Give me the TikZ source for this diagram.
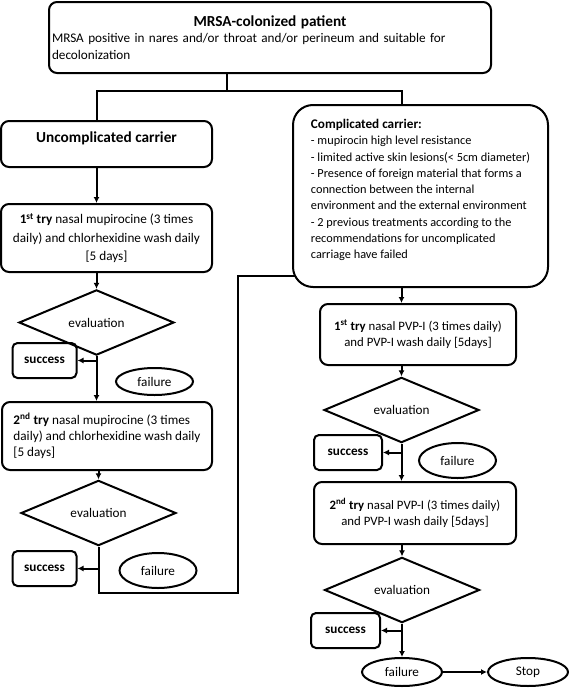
\documentclass[tikz,border=0pt]{standalone}
\usepackage{fontspec}
\setmainfont{Carlito}
\usetikzlibrary{arrows.meta,shapes.geometric}

\begin{document}
\begin{tikzpicture}[
                x=1pt,y=-1pt,
                line width=2pt,
                every node/.style={draw,font=\fontsize{13.2}{16.3}\selectfont,inner sep=3pt},
                box/.style={rounded corners=8pt,align=center},
                heading/.style={font=\fontsize{15.3}{17}\selectfont\bfseries},
                decision/.style={diamond,minimum width=155pt,minimum height=45pt,inner sep=0pt},
                outcome/.style={rounded corners=5pt,font=\fontsize{13.2}{16.3}\selectfont\bfseries,minimum width=64pt,minimum height=35pt},
                result/.style={ellipse,minimum width=77pt,minimum height=32pt},
                link/.style={-{Latex[length=6pt,width=6pt]}}
            ]
                \useasboundingbox (0,0) rectangle (569,688);
                \node[box,align=left,text width=436pt,minimum height=71pt] (patient) at (270,37.5)
                    {{\centering\fontsize{15.3}{17}\selectfont\bfseries MRSA-colonized patient\par}MRSA positive in nares and/or throat and/or perineum and suitable for\\decolonization};
                \node[box,heading,minimum width=211pt,minimum height=46pt,text depth=14pt] (uncompl) at (106.5,144) {Uncomplicated carrier};
                \node[box,minimum width=211pt,minimum height=68pt] (try1) at (106.5,238)
                    {\textbf{1\textsuperscript{st} try} nasal mupirocine (3 times\\[2pt]daily) and chlorhexidine wash daily\\[2pt][5 days]};
                \node[decision] (eval1) at (96.5,322.5) {evaluation};
                \node[outcome] (succ1) at (44.5,360.5) {success};
                \node[result,minimum height=27pt] (fail1) at (154.5,381.5) {failure};
                \node[box,align=left,minimum width=210pt,minimum height=68pt] (try2) at (107,436)
                    {\textbf{2\textsuperscript{nd} try} nasal mupirocine (3 times\\daily) and chlorhexidine wash daily\\{[5 days]}};
                \node[decision] (eval2) at (98.5,513) {evaluation};
                \node[outcome] (succ2) at (44.5,568.5) {success};
                \node[result,minimum height=35pt] (fail2) at (158,570.5) {failure};

                \node[box,rounded corners=20pt,align=left,minimum width=255pt,minimum height=182pt,
                    font=\fontsize{12.3}{16.25}\selectfont] (compl) at (420.5,196)
                    {{\fontsize{13.2}{16.25}\selectfont\bfseries Complicated carrier:}\\- mupirocin high level resistance\\- limited active skin lesions(< 5cm diameter)\\- Presence of foreign material that forms a\\connection between the internal\\environment and the external environment\\- 2 previous treatments according to the\\recommendations for uncomplicated\\carriage have failed\\[-2pt]\mbox{}};
                \node[box,minimum width=196pt,minimum height=61pt,font=\fontsize{12.8}{16.3}\selectfont] (pvp1) at (418,334.5)
                    {\textbf{1\textsuperscript{st} try} nasal PVP-I (3 times daily)\\and PVP-I wash daily [5days]};
                \node[decision] (eval3) at (401.5,410) {evaluation};
                \node[outcome,minimum width=68pt] (succ3) at (348,452.5) {success};
                \node[result,minimum height=35pt] (fail3) at (457.5,460.5) {failure};
                \node[box,minimum width=202pt,minimum height=62pt,font=\fontsize{12.8}{16.3}\selectfont] (pvp2) at (415,513)
                    {\textbf{2\textsuperscript{nd} try} nasal PVP-I (3 times daily)\\and PVP-I wash daily [5days]};
                \node[decision] (eval4) at (402,590) {evaluation};
                \node[outcome,minimum width=69pt] (succ4) at (345.5,630.5) {success};
                \node[result,minimum width=80pt,minimum height=28pt] (fail4) at (402,672) {failure};
                \node[result,minimum width=80pt,minimum height=28pt] (stop) at (528,672) {Stop};

                \coordinate (split) at (227,91);
                \coordinate (back) at (238,593);
                \coordinate (entry) at (295,276);
                \draw (patient.south -| split) -- (split);
                \draw (uncompl.north -| eval1) |- (split) -| (compl.north -| eval3);
                \draw[link] (uncompl.south -| eval1) -- (try1.north -| eval1);
                \draw[link] (try1.south -| eval1) -- (eval1.north);
                \draw[link] (eval1.south) -- (try2.north -| eval1);
                \draw[link] (eval1 |- succ1.east) -- (succ1.east);
                \draw[link] (try2.south -| eval2) -- (eval2.north);
                \draw (eval2.south) |- (back) |- (entry);
                \draw[link] (eval2.south |- succ2.east) -- (succ2.east);
                \draw[link] (compl.south -| eval3) -- (pvp1.north -| eval3);
                \draw[link] (pvp1.south -| eval3) -- (eval3.north);
                \draw[link] (eval3.south) -- (pvp2.north -| eval3);
                \draw[link] (eval3 |- succ3.east) -- (succ3.east);
                \draw[link] (pvp2.south -| eval4) -- (eval4.north);
                \draw[link] (eval4.south) -- (fail4.north);
                \draw[link] (eval4 |- succ4.east) -- (succ4.east);
                \draw[link] (fail4) -- (stop);
            \end{tikzpicture}
\end{document}
